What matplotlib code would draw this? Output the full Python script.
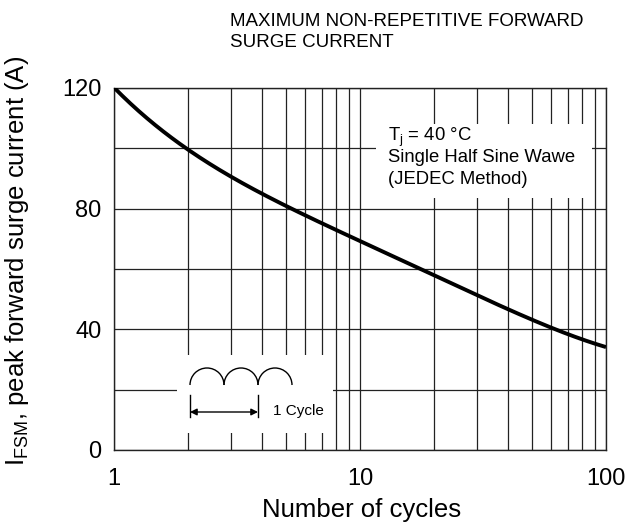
import matplotlib
matplotlib.use("Agg")
import matplotlib.pyplot as plt
import numpy as np
from matplotlib.patches import Arc, Rectangle
from matplotlib.ticker import FixedLocator, NullFormatter

plt.rcParams['font.family'] = ['Liberation Sans', 'DejaVu Sans']

# data
cycles = [1, 1.5, 2, 3, 4, 5, 7, 10, 20, 30, 50, 70, 100]
ifsm = [120, 108, 98.5, 91, 85, 80.6, 75, 70, 57.5, 51, 43.5, 38.5, 34]
xticks = [1, 10, 100]
xticklabels = ["1", "10", "100"]
yticks = [0, 40, 80, 120]
yticklabels = ["0", "40", "80", "120"]

fig = plt.figure(figsize=(6.26, 5.25), dpi=100)
ax = fig.add_axes([114/626, 75/525, 492/626, 362/525])
ax.set_xscale('log')
ax.set_xlim(1, 100)
ax.set_ylim(0, 120)

# smooth curve through read points (log-x)
lx = np.log10(cycles)
xs = np.linspace(0, 2, 300)
coef = np.polyfit(lx, ifsm, 4)
ys = np.polyval(coef, xs)
ax.plot(10**xs, ys, color='black', lw=2.8, zorder=5, solid_capstyle='butt')

ax.xaxis.set_major_locator(FixedLocator(xticks))
ax.xaxis.set_minor_locator(FixedLocator([2,3,4,5,6,7,8,9,20,30,40,50,60,70,80,90]))
ax.xaxis.set_minor_formatter(NullFormatter())
ax.set_xticks(xticks)
ax.set_xticklabels(xticklabels)
ax.set_yticks(yticks)
ax.set_yticklabels(yticklabels)
ax.yaxis.set_minor_locator(FixedLocator([20, 60, 100]))
ax.grid(True, which='both', color='#222222', lw=0.9)
ax.set_axisbelow(True)
ax.tick_params(which='both', length=0, labelsize=17)
ax.tick_params(axis='x', pad=13)
ax.tick_params(axis='y', pad=9)
for s in ax.spines.values():
    s.set_linewidth(1.0)
    s.set_color('#222222')

def fx(px):
    return (px - 114) / 492
def fy(py):
    return (450 - py) / 362

ax.set_xlabel("Number of cycles", fontsize=18.5, va='center')
ax.xaxis.set_label_coords(fx(362), fy(510))
ax.set_ylabel(r"I$\mathregular{_{FSM}}$, peak forward surge current (A)", fontsize=18.5)
ax.yaxis.set_label_coords(fx(31), fy(261))

fig.text(230/626, 1 - 32/525, "MAXIMUM NON-REPETITIVE FORWARD\nSURGE CURRENT",
         fontsize=13.5, va='center', ha='left', linespacing=1.3)

# annotation with white background
ax.add_patch(Rectangle((fx(376), fy(198)), fx(592) - fx(376), fy(124) - fy(198),
                       transform=ax.transAxes, facecolor='white', edgecolor='none', zorder=1))
ax.text(fx(388), fy(137), r"T$\mathregular{_j}$ = 40 °C", transform=ax.transAxes,
        fontsize=13.3, va='center', ha='left', zorder=2)
ax.text(fx(388), fy(158), "Single Half Sine Wawe", transform=ax.transAxes,
        fontsize=13.3, va='center', ha='left', zorder=2)
ax.text(fx(388), fy(180), "(JEDEC Method)", transform=ax.transAxes,
        fontsize=13.3, va='center', ha='left', zorder=2)

# inset cycle sketch
ax.add_patch(Rectangle((fx(177), fy(433)), fx(333) - fx(177), fy(355) - fy(433),
                       transform=ax.transAxes, facecolor='white', edgecolor='none', zorder=1))
r = 17.0
for i in range(3):
    cxp = 190 + r + 2 * r * i
    ax.add_patch(Arc((fx(cxp), fy(385)), 2 * r / 492, 2 * r / 362, theta1=0, theta2=180,
                     transform=ax.transAxes, color='black', lw=1.0, zorder=3))
for xp in (190, 258):
    ax.plot([fx(xp), fx(xp)], [fy(395), fy(417)], transform=ax.transAxes,
            color='black', lw=1.0, zorder=3)
ax.annotate("", xy=(fx(258), fy(412)), xytext=(fx(190), fy(412)),
            xycoords='axes fraction', textcoords='axes fraction',
            arrowprops=dict(arrowstyle='<|-|>', color='black', lw=1.0,
                            mutation_scale=10, shrinkA=0, shrinkB=0), zorder=3)
ax.text(fx(273), fy(411), "1 Cycle", transform=ax.transAxes, fontsize=11,
        va='center', ha='left', zorder=3)

fig.savefig("out.png", dpi=100)
